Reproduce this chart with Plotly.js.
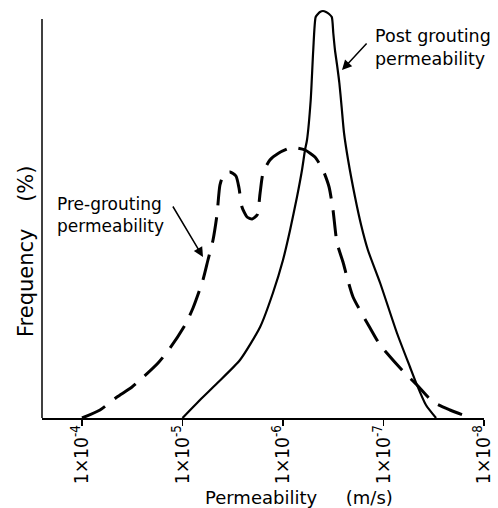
<!DOCTYPE html>
<html>
<head>
<meta charset="utf-8">
<script src="https://cdn.plot.ly/plotly-3.0.1.min.js"></script>
<style>html,body{margin:0;padding:0;background:#fff;}#chart{width:498px;height:508px;}</style>
</head>
<body>
<div id="chart"></div>
<script>
// Post-grouting permeability distribution (m/s, frequency in relative units)
const postPerm = [1.0e-5, 6.7e-6, 4.5e-6, 2.68e-6, 1.69e-6, 1.26e-6, 1.0e-6, 8.5e-7, 7.26e-7, 6.47e-7,
  6.04e-7, 5.77e-7, 5.30e-7, 5.0e-7, 4.73e-7, 4.49e-7, 4.29e-7, 4.0e-7, 3.73e-7, 3.48e-7,
  3.27e-7, 3.16e-7, 3.04e-7, 2.88e-7, 2.75e-7, 2.61e-7, 2.47e-7, 2.25e-7, 1.92e-7, 1.67e-7,
  1.43e-7, 1.08e-7, 7.35e-8, 5.45e-8, 4.64e-8, 3.78e-8, 3.0e-8];
const postFreq = [0, 18, 35, 58, 91, 125, 158, 188, 221, 248,
  268, 278, 318, 368, 401, 404, 406, 407, 406, 404,
  401, 385, 368, 351, 335, 311, 285, 258, 221, 193,
  168, 135, 85, 51, 33, 13, 0];

// Pre-grouting permeability distribution
const prePerm = [1.0e-4, 6.62e-5, 4.49e-5, 3.18e-5, 1.75e-5, 1.33e-5, 9.44e-6, 7.86e-6, 6.26e-6, 5.58e-6,
  4.97e-6, 4.54e-6, 4.24e-6, 3.87e-6, 3.37e-6, 2.94e-6, 2.74e-6, 2.56e-6, 2.28e-6, 2.03e-6,
  1.81e-6, 1.69e-6, 1.58e-6, 1.35e-6, 1.10e-6, 8.51e-7, 7.26e-7, 6.04e-7, 4.81e-7, 4.0e-7,
  3.48e-7, 3.18e-7, 2.90e-7, 2.53e-7, 2.31e-7, 2.01e-7, 1.36e-7, 1.08e-7, 6.55e-8, 4.64e-8,
  3.21e-8, 2.18e-8, 1.51e-8];
const preFreq = [0, 8, 21, 31, 55, 70, 93, 110, 138, 158,
  178, 203, 233, 244, 246, 242, 230, 211, 201, 199,
  203, 225, 245, 258, 265, 270, 270, 268, 261, 248,
  231, 208, 175, 156, 141, 121, 90, 73, 48, 33,
  16, 8, 2];

const tickVals = [1e-4, 1e-5, 1e-6, 1e-7, 1e-8];
const tickLabels = ['1×10<sup>-4</sup>', '1×10<sup>-5</sup>', '1×10<sup>-6</sup>', '1×10<sup>-7</sup>', '1×10<sup>-8</sup>'];

const FONT = 'DejaVu Sans, sans-serif';
const FONT_C = 'DejaVu Sans Condensed, DejaVu Sans, sans-serif';

const traces = [
  {x: prePerm, y: preFreq, type: 'scatter', mode: 'lines', name: 'Pre-grouting permeability',
   line: {color: '#000', width: 3, dash: '26px,12px', shape: 'spline', smoothing: 0.6}},
  {x: postPerm, y: postFreq, type: 'scatter', mode: 'lines', name: 'Post grouting permeability',
   line: {color: '#000', width: 2.2, shape: 'spline', smoothing: 0.6}}
];

const layout = {
  width: 498, height: 508,
  margin: {l: 42, r: 14, t: 8, b: 90},
  paper_bgcolor: '#fff', plot_bgcolor: '#fff',
  showlegend: false,
  font: {family: FONT, color: '#000', size: 15},
  xaxis: {
    type: 'log', range: [-3.602, -8], showgrid: false, zeroline: false,
    showline: true, linecolor: '#000', linewidth: 1.5,
    ticks: 'outside', ticklen: 6, tickwidth: 1.5, tickcolor: '#000',
    tickvals: tickVals, ticktext: tickLabels, tickangle: -90,
    ticklabelstandoff: -8,
    tickfont: {family: FONT_C, size: 19, color: '#000'}
  },
  yaxis: {
    range: [0, 410], showgrid: false, zeroline: false, showline: false,
    showticklabels: false, ticks: ''
  },
  shapes: [
    {type: 'line', xref: 'paper', yref: 'y', x0: 0, x1: 0, y0: 0, y1: 399, line: {color: '#000', width: 1.5}}
  ],
  annotations: [
    // axis titles
    {xref: 'paper', yref: 'paper', x: 0.5814, y: -0.1927, xanchor: 'center', yanchor: 'middle', showarrow: false,
     text: 'Permeability\u00A0\u00A0\u00A0\u00A0\u00A0(m/s)', font: {family: FONT, size: 18, color: '#000'}},
    {xref: 'paper', yref: 'paper', x: -0.0362, y: 0.4073, xanchor: 'center', yanchor: 'middle', showarrow: false, textangle: -90,
     text: 'Frequency\u00A0\u00A0\u00A0\u00A0(%)', font: {family: FONT, size: 21, color: '#000'}},
    // curve labels
    {x: -6.896, y: 394, xref: 'x', yref: 'y', xanchor: 'left', yanchor: 'top', align: 'left', showarrow: false,
     text: 'Post grouting<br>permeability', font: {family: FONT, size: 17.5, color: '#000'}},
    {x: -6.587, y: 348, xref: 'x', yref: 'y', text: '', showarrow: true, ax: 26, ay: -28,
     arrowhead: 2, arrowsize: 1.3, arrowwidth: 1.5, arrowcolor: '#000'},
    {x: -3.731, y: 226, xref: 'x', yref: 'y', xanchor: 'left', yanchor: 'top', align: 'left', showarrow: false,
     text: 'Pre-grouting<br>permeability', font: {family: FONT, size: 17, color: '#000'}},
    {x: -5.204, y: 161, xref: 'x', yref: 'y', text: '', showarrow: true, ax: -31, ay: -52,
     arrowhead: 2, arrowsize: 1.3, arrowwidth: 1.5, arrowcolor: '#000'}
  ]
};

Plotly.newPlot('chart', traces, layout, {displayModeBar: false, staticPlot: true});
</script>
</body>
</html>
